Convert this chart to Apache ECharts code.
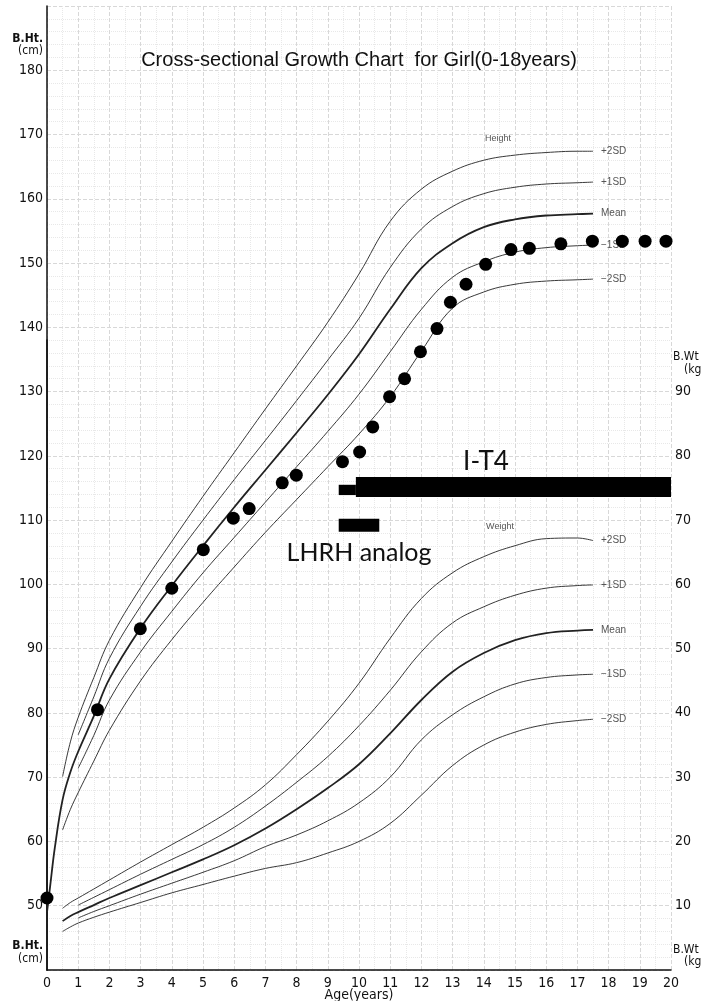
<!DOCTYPE html>
<html>
<head>
<meta charset="utf-8">
<script src="https://cdn.jsdelivr.net/npm/echarts@6/dist/echarts.min.js"></script>
<style>
html,body{margin:0;padding:0;background:#fff;}
#chart{width:701px;height:1001px;}
</style>
</head>
<body>
<div id="chart"></div>
<script>
// ---------- data ----------
const htAges = [0, 0.1, 0.25, 0.5, 0.75, 1, 1.5, 2, 3, 4, 5, 6, 7, 8, 9, 10, 11, 12, 13, 14, 15, 16, 17, 17.5];
const htP2 = [null, null, null, 70.1, 75.5, 79.3, 85.5, 91.3, 99.5, 106.7, 113.7, 120.5, 127.3, 134.0, 140.8, 148.3, 156.5, 161.5, 164.3, 166.0, 166.8, 167.2, 167.4, 167.4];
const htP1 = [null, null, null, null, null, 76.6, 82.5, 88.5, 96.6, 103.5, 110.0, 116.3, 122.4, 128.6, 134.9, 141.4, 149.3, 155.3, 158.8, 160.8, 161.8, 162.3, 162.5, 162.6];
const htMean = [49, 53, 59, 66.5, 70.8, 74, 79.5, 85.3, 93.2, 99.8, 106, 112, 117.8, 123.6, 129.5, 135.8, 142.8, 149.2, 153.1, 155.6, 156.8, 157.4, 157.6, 157.7];
const htM1 = [null, null, null, null, null, 71.4, 76.5, 82.0, 89.5, 95.8, 101.8, 107.3, 112.8, 118.3, 123.8, 129.6, 136.2, 142.8, 147.8, 150.2, 151.7, 152.4, 152.7, 152.8];
const htM2 = [null, null, null, 61.8, 65.0, 67.6, 72.5, 77.3, 85.0, 91.4, 97.2, 102.7, 108.1, 113.2, 118.3, 123.4, 129.2, 136.3, 143.0, 145.5, 146.7, 147.2, 147.4, 147.5];

const wtAges = [0.5, 0.75, 1, 1.5, 2, 3, 4, 5, 6, 7, 8, 9, 10, 11, 12, 13, 14, 15, 16, 17, 17.5];
const wtP2 = [9.6, 10.5, 11.2, 12.6, 14.0, 16.8, 19.5, 22.2, 25.2, 28.8, 33.5, 38.7, 44.6, 51.6, 57.8, 61.8, 64.3, 66.0, 67.1, 67.2, 66.8];
const wtP1 = [null, null, 10.1, 11.3, 12.5, 14.9, 17.2, 19.5, 22.2, 25.5, 29.2, 33.2, 38.0, 43.5, 49.5, 54.0, 56.5, 58.3, 59.4, 59.8, 59.9];
const wtMean = [7.6, 8.4, 9.0, 10.1, 11.2, 13.2, 15.2, 17.2, 19.4, 22.0, 25.0, 28.3, 32.0, 36.8, 42.0, 46.4, 49.3, 51.3, 52.4, 52.8, 52.9];
const wtM1 = [null, null, 8.1, 9.1, 10.0, 11.8, 13.5, 15.2, 17.0, 19.2, 21.0, 23.2, 26.0, 30.0, 35.8, 39.7, 42.5, 44.5, 45.5, 45.9, 46.0];
const wtM2 = [6.0, 6.7, 7.3, 8.2, 9.0, 10.5, 12.0, 13.3, 14.6, 15.8, 16.7, 18.2, 20.0, 22.8, 27.2, 31.8, 35.0, 37.0, 38.2, 38.8, 39.0];

const patientAges = [0, 1.62, 2.99, 4.0, 5.01, 5.97, 6.48, 7.54, 7.99, 9.47, 10.02, 10.44, 10.98, 11.46, 11.97, 12.5, 12.93, 13.43, 14.06, 14.87, 15.46, 16.47, 17.48, 18.44, 19.17, 19.84];
const patientHeights = [51.2, 80.5, 93.1, 99.4, 105.4, 110.3, 111.8, 115.8, 117.0, 119.1, 120.6, 124.5, 129.2, 132.0, 136.2, 139.8, 143.9, 146.7, 149.8, 152.1, 152.3, 153.0, 153.4, 153.4, 153.4, 153.4];

const it4Start = [9.35, 9.9];
const it4End = [9.9, 20];
const lhrhStart = [9.35];
const lhrhEnd = [10.65];

const sdNames = ['+2SD', '+1SD', 'Mean', '\u22121SD', '\u22122SD'];
const xTicks = [0, 20, 1];
const htTicks = [40, 190, 10];
const wtTicks = [0, 98, 10];

// ---------- build ----------
const zip = (xs, ys) => xs.map((x, i) => [x, ys[i]]);
const narrow = '"Liberation Sans Narrow","DejaVu Sans Condensed",sans-serif';

function curve(name, ages, vals, gi, isMean) {
  return {
    type: 'line', name: name, xAxisIndex: gi, yAxisIndex: gi,
    data: zip(ages, vals), showSymbol: false, smooth: 0.4,
    lineStyle: { color: '#222', width: isMean ? 1.8 : 0.9 },
    endLabel: { show: true, formatter: name, fontSize: 10, color: '#555', distance: 8, fontFamily: 'Liberation Sans' },
    silent: true, z: 3
  };
}

const series = [];
[htP2, htP1, htMean, htM1, htM2].forEach((v, i) => series.push(curve(sdNames[i], htAges, v, 0, i === 2)));
[wtP2, wtP1, wtMean, wtM1, wtM2].forEach((v, i) => series.push(curve(sdNames[i], wtAges, v, 1, i === 2)));

series.push({
  type: 'scatter', xAxisIndex: 0, yAxisIndex: 0,
  data: zip(patientAges, patientHeights),
  symbolSize: 13, itemStyle: { color: '#000', opacity: 1 }, z: 5
});

const bandRect = (params, api) => {
  const p1 = api.coord([api.value(0), api.value(3)]);
  const p2 = api.coord([api.value(1), api.value(2)]);
  return { type: 'rect', shape: { x: p1[0], y: p1[1], width: p2[0] - p1[0], height: p2[1] - p1[1] }, style: { fill: '#000' } };
};
const it4Bands = [[113.9, 115.5], [113.6, 116.7]];
const lhrhBands = [[108.2, 110.2]];
series.push({
  type: 'custom', xAxisIndex: 0, yAxisIndex: 0, renderItem: bandRect, z: 4,
  data: it4Start.map((s, i) => [s, it4End[i], it4Bands[i][0], it4Bands[i][1]])
});
series.push({
  type: 'custom', xAxisIndex: 0, yAxisIndex: 0, renderItem: bandRect, z: 4,
  data: lhrhStart.map((s, i) => [s, lhrhEnd[i], lhrhBands[i][0], lhrhBands[i][1]])
});

const gtext = (x, y, text, opt) => ({
  type: 'text', x: x, y: y, z: 10,
  style: Object.assign({ text: text, fill: '#111', textAlign: 'center', textVerticalAlign: 'middle' }, opt || {})
});

const option = {
  animation: false,
  backgroundColor: '#fff',
  grid: [
    { left: 47, right: 30, top: 6, bottom: 31, outerBoundsMode: 'none', containLabel: false },
    { left: 47, right: 30, top: 340, bottom: 31, outerBoundsMode: 'none', containLabel: false }
  ],
  xAxis: [
    {
      type: 'value', gridIndex: 0, min: xTicks[0], max: xTicks[1], interval: xTicks[2],
      name: 'Age(years)', nameLocation: 'middle', nameGap: 18, nameMoveOverlap: false,
      nameTextStyle: { fontFamily: narrow, fontSize: 14, color: '#111' },
      axisLine: { lineStyle: { color: '#111', width: 1.5 } },
      axisTick: { show: false },
      axisLabel: { fontFamily: narrow, fontSize: 14, color: '#111', margin: 6 },
      splitLine: { show: true, lineStyle: { color: '#d8d8d8', width: 1, type: 'dashed' } },
      minorTick: { show: false, splitNumber: 2 },
      minorSplitLine: { show: true, lineStyle: { color: '#e8e8e8', width: 1, type: 'dotted' } }
    },
    { type: 'value', gridIndex: 1, min: xTicks[0], max: xTicks[1], interval: xTicks[2], show: false }
  ],
  yAxis: [
    {
      type: 'value', gridIndex: 0, min: htTicks[0], max: htTicks[1], interval: htTicks[2], position: 'left',
      axisLine: { show: true, lineStyle: { color: '#111', width: 1.5 } },
      axisTick: { show: false },
      axisLabel: { fontFamily: narrow, fontSize: 14, color: '#111', margin: 4,
        formatter: v => (v <= 40 || v >= 190) ? '' : String(v) },
      splitLine: { show: true, lineStyle: { color: '#d8d8d8', width: 1, type: 'dashed' } },
      minorTick: { show: false, splitNumber: 5 },
      minorSplitLine: { show: true, lineStyle: { color: '#e8e8e8', width: 1, type: 'dotted' } }
    },
    {
      type: 'value', gridIndex: 1, min: wtTicks[0], max: wtTicks[1], interval: wtTicks[2], position: 'right',
      axisLine: { show: true, lineStyle: { color: '#111', width: 1.5 } },
      axisTick: { show: false },
      axisLabel: { fontFamily: narrow, fontSize: 14, color: '#111', margin: 4,
        formatter: v => (v <= 0 || v > 90) ? '' : String(v) },
      splitLine: { show: false }
    }
  ],
  graphic: [
    gtext(359, 60, 'Cross-sectional Growth Chart  for Girl(0-18years)', { font: '20px "Liberation Sans", Arial, sans-serif' }),
    gtext(486, 462, 'I-T4', { font: '26px Lato, "Open Sans", sans-serif' }),
    gtext(359, 553, 'LHRH analog', { font: '25px Lato, "Open Sans", sans-serif' }),
    gtext(498, 139, 'Height', { font: '9px "Liberation Sans", sans-serif', fill: '#555' }),
    gtext(500, 527, 'Weight', { font: '9px "Liberation Sans", sans-serif', fill: '#555' }),
    gtext(43, 39, 'B.Ht.', { font: 'bold 12px ' + narrow, textAlign: 'right' }),
    gtext(43, 51, '(cm)', { font: '12px ' + narrow, textAlign: 'right' }),
    gtext(43, 946, 'B.Ht.', { font: 'bold 12px ' + narrow, textAlign: 'right' }),
    gtext(43, 959, '(cm)', { font: '12px ' + narrow, textAlign: 'right' }),
    gtext(673, 357, 'B.Wt', { font: '12px ' + narrow, textAlign: 'left' }),
    gtext(684, 370, '(kg)', { font: '12px ' + narrow, textAlign: 'left' }),
    gtext(673, 950, 'B.Wt', { font: '12px ' + narrow, textAlign: 'left' }),
    gtext(684, 962, '(kg)', { font: '12px ' + narrow, textAlign: 'left' })
  ],
  series: series
};

const chart = echarts.init(document.getElementById('chart'), null, { renderer: 'canvas' });
chart.setOption(option);
</script>
</body>
</html>
